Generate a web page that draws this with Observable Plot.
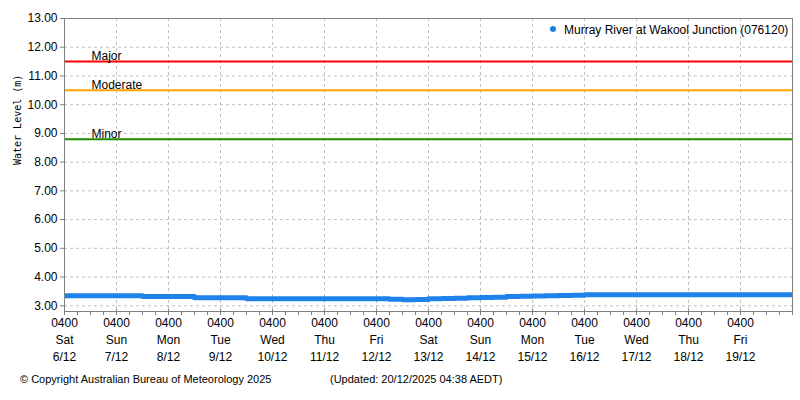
<!DOCTYPE html>
<html>
<head>
<meta charset="utf-8">
<script src="https://cdn.jsdelivr.net/npm/d3@7"></script>
<script src="https://cdn.jsdelivr.net/npm/@observablehq/plot@0.6"></script>
<style>
  html, body { margin: 0; padding: 0; background: #fff; }
  #wrap { position: relative; width: 800px; height: 400px; font-family: "Liberation Sans", Arial, sans-serif; }
  #legend { position: absolute; left: 550px; top: 22px; font-size: 12px; color: #000; white-space: nowrap; line-height: 16px; }
  #legend .dot { display: inline-block; width: 6px; height: 6px; border-radius: 50%; background: #1f81ea; margin-right: 8px; vertical-align: 2px; }
  #footer { position: absolute; left: 0; top: 373px; width: 800px; font-size: 11px; color: #000; }
  #footer span { position: absolute; top: 0; white-space: nowrap; }
</style>
</head>
<body>
<div id="wrap">
  <div id="chart"></div>
  <div id="legend"><span class="dot"></span>Murray River at Wakool Junction (076120)</div>
  <div id="footer"><span style="left:20px">© Copyright Australian Bureau of Meteorology 2025</span><span style="left:330px">(Updated: 20/12/2025 04:38 AEDT)</span></div>
</div>
<script>
// ---- data ----
const seriesName = "Murray River at Wakool Junction (076120)";
// water level readings every 6 hours from 0400 Sat 6/12/2025
const startTime = "2025-12-06T04:00:00Z";
const endTime = "2025-12-20T04:00:00Z";
const stepHours = 6;
const levels = [
  3.35, 3.35, 3.35, 3.35, 3.35, 3.35, 3.32, 3.32, 3.32, 3.32,
  3.28, 3.28, 3.28, 3.28, 3.24, 3.24, 3.24, 3.24, 3.24, 3.24,
  3.24, 3.24, 3.24, 3.24, 3.24, 3.23, 3.21, 3.22, 3.24, 3.25,
  3.26, 3.28, 3.29, 3.30, 3.32, 3.33, 3.34, 3.35, 3.36, 3.37,
  3.38, 3.38, 3.38, 3.38, 3.38, 3.38, 3.38, 3.38, 3.38, 3.38,
  3.38, 3.38, 3.38, 3.38, 3.38, 3.38, 3.38
];
// flood class thresholds
const thresholdNames = ["Major", "Moderate", "Minor"];
const thresholdLevels = [11.5, 10.5, 8.8];
const thresholdColors = ["#ff0000", "#ffa500", "#1f8c00"];
// axis tick labels
const timeLabels = ["0400","0400","0400","0400","0400","0400","0400","0400","0400","0400","0400","0400","0400","0400"];
const dayLabels = ["Sat","Sun","Mon","Tue","Wed","Thu","Fri","Sat","Sun","Mon","Tue","Wed","Thu","Fri"];
const dateLabels = ["6/12","7/12","8/12","9/12","10/12","11/12","12/12","13/12","14/12","15/12","16/12","17/12","18/12","19/12"];
const yTicks = [3,4,5,6,7,8,9,10,11,12,13];
const yLabel = "Water Level (m)";

// ---- build tables ----
const t0 = new Date(startTime);
const t1 = new Date(endTime);
const HOUR = 3600 * 1000;
const series = levels.map((v, i) => ({ time: new Date(+t0 + i * stepHours * HOUR), level: v }));
const thresholds = thresholdNames.map((n, i) => ({ name: n, level: thresholdLevels[i], color: thresholdColors[i] }));
const dayTicks = dateLabels.map((_, i) => new Date(+t0 + i * 24 * HOUR));
const minorTicks = d3.range(0, 14 * 4 + 1).map(i => new Date(+t0 + i * 6 * HOUR));

const grid = "#c0c0c0";
const axisColor = "#808080";

const chart = Plot.plot({
  width: 800,
  height: 370,
  marginTop: 18,
  marginBottom: 59,
  marginLeft: 64,
  marginRight: 8,
  style: { fontFamily: "Liberation Sans, Arial, sans-serif", fontSize: "12px", color: "#000", background: "#fff" },
  x: { type: "utc", domain: [t0, t1] },
  y: { domain: [2.8, 13] },
  marks: [
    Plot.gridY(yTicks, { stroke: grid, strokeOpacity: 1, strokeDasharray: "3,3" }),
    Plot.gridX(dayTicks, { stroke: grid, strokeOpacity: 1, strokeDasharray: "3,3" }),
    Plot.ruleY(thresholds, { y: "level", stroke: "color", strokeWidth: 2 }),
    Plot.text(thresholds, { y: "level", text: "name", frameAnchor: "left", textAnchor: "start", dx: 27, dy: -5, fill: "#000", fontSize: 12 }),
    Plot.line(series, { x: "time", y: "level", stroke: "#1f81ea", strokeWidth: 5, curve: "step-after", strokeLinecap: "butt" }),
    Plot.frame({ stroke: axisColor }),
    Plot.axisY(yTicks, { tickFormat: d => d.toFixed(2), tickSize: 4, tickPadding: 3, stroke: axisColor, fill: "#000", label: null, fontSize: 12 }),
    Plot.axisX(minorTicks, { tickFormat: () => "", tickSize: 4, stroke: axisColor, label: null }),
    Plot.axisX(dayTicks, {
      tickFormat: (d, i) => timeLabels[i] + "\n" + dayLabels[i] + "\n" + dateLabels[i],
      tickSize: 5, tickPadding: 0, dy: -2, stroke: axisColor, fill: "#000", label: null, lineHeight: 1.42, fontSize: 12
    }),
    Plot.text([yLabel], { text: d => d, frameAnchor: "left", rotate: -90, dx: -47, fontFamily: "DejaVu Sans Mono, monospace", fontSize: 10, fill: "#000" })
  ]
});
document.getElementById("chart").appendChild(chart);
</script>
</body>
</html>
